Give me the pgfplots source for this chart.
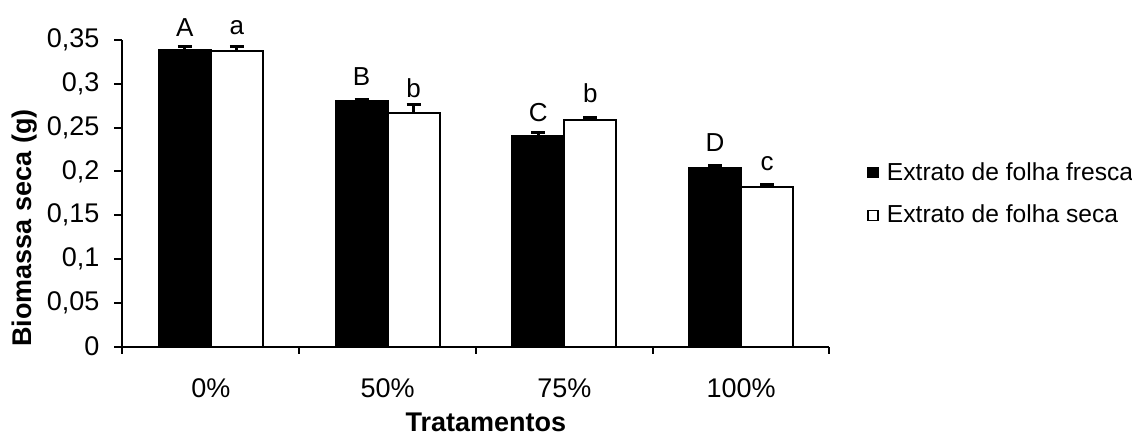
\documentclass[border=0pt]{standalone}
\usepackage{pgfplots}
\pgfplotsset{compat=1.18}
\usepackage{fontspec}
\setmainfont{Liberation Sans}
\begin{document}
\begin{tikzpicture}
\useasboundingbox (-61.25pt,-45.15pt) rectangle (504.75pt,173.35pt);
\begin{axis}[
  at={(0,0)}, anchor=south west, clip=false,
  scale only axis, width=353.5pt, height=153.35pt,
  ybar=0pt, bar width=26pt,
  xmin=-0.5, xmax=3.5, ymin=0, ymax=0.35,
  axis x line*=bottom, axis y line*=left,
  axis line style={line width=1pt, black},
  tick align=outside,
  xtick={0,1,2,3}, xticklabels={0\%,50\%,75\%,100\%},
  minor xtick={-0.5,0.5,1.5,2.5,3.5},
  major x tick style={draw=none},
  minor tick length=3.5pt, major tick length=4pt,
  every tick/.style={line width=1pt, black},
  ytick={0,0.05,0.1,0.15,0.2,0.25,0.3,0.35},
  /pgf/number format/assume math mode=true,
  /pgf/number format/fixed, /pgf/number format/precision=2,
  /pgf/number format/use comma,
  tick label style={font=\fontsize{13.5}{16}\selectfont},
  xticklabel style={yshift=-8.5pt},
  yticklabel style={xshift=-4pt},
  xlabel={Tratamentos},
  ylabel={Biomassa seca (g)},
  xlabel style={at={(axis description cs:0.514,-0.246)}, anchor=center, font=\bfseries\fontsize{13.5}{16}\selectfont},
  ylabel style={at={(axis description cs:-0.138,0.387)}, anchor=center, font=\bfseries\fontsize{13.5}{16}\selectfont},
  legend style={draw=none, fill=none, at={(axis description cs:1.053,0.4975)}, anchor=west,
    font=\fontsize{12.3}{14}\selectfont, row sep=7pt, inner sep=0pt,
    nodes={inner sep=2pt}},
  legend cell align=left,
  error bars/y dir=plus, error bars/y explicit,
  error bars/error mark options={rotate=90, mark size=3.5pt, line width=1.5pt, black},
  error bars/error bar style={line width=1.5pt, black},
]
\addplot[fill=black, draw=black, line width=1pt,
  legend image code/.code={\draw[fill=black, draw=black, line width=0.8pt] (0pt,-2.5pt) rectangle (5pt,2.5pt);}]
  coordinates {(0,0.3386) +- (0,0.004) (1,0.2805) +- (0,0.002) (2,0.2401) +- (0,0.0046) (3,0.2036) +- (0,0.003)};
\addlegendentry{\hspace{2pt}Extrato de folha fresca}
\addplot[fill=white, draw=black, line width=1pt,
  legend image code/.code={\draw[fill=white, draw=black, line width=0.8pt] (0pt,-2.5pt) rectangle (5pt,2.5pt);}]
  coordinates {(0,0.3375) +- (0,0.005) (1,0.2671) +- (0,0.0095) (2,0.2591) +- (0,0.002) (3,0.1826) +- (0,0.003)};
\addlegendentry{\hspace{2pt}Extrato de folha seca}
\begin{scope}[every node/.style={font=\fontsize{13}{15}\selectfont, anchor=center}]
\node[xshift=-13pt] at (axis cs:0,0.3637) {A};
\node[xshift=13pt] at (axis cs:0,0.3637) {a};
\node[xshift=-13pt] at (axis cs:1,0.3078) {B};
\node[xshift=13pt] at (axis cs:1,0.2953) {b};
\node[xshift=-13pt] at (axis cs:2,0.2667) {C};
\node[xshift=13pt] at (axis cs:2,0.2895) {b};
\node[xshift=-13pt] at (axis cs:3,0.2325) {D};
\node[xshift=13pt] at (axis cs:3,0.2093) {c};
\end{scope}
\end{axis}
\end{tikzpicture}
\end{document}
